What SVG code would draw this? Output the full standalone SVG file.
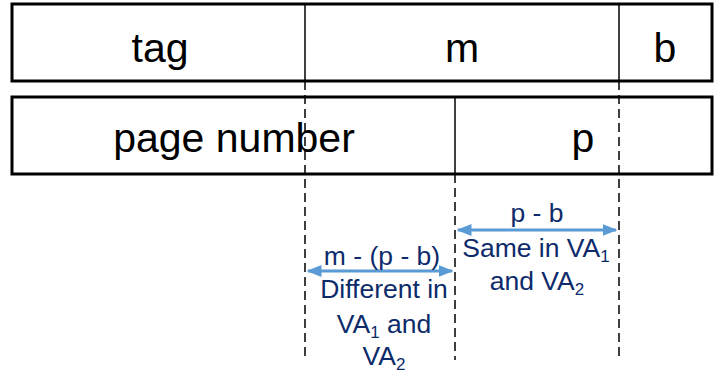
<svg xmlns="http://www.w3.org/2000/svg" width="722" height="375" viewBox="0 0 722 375">
<style>
.box{fill:#fff;stroke:#000;stroke-width:3}
.div{stroke:#000;stroke-width:1.5}
.dash{stroke:#000;stroke-width:1.5;stroke-dasharray:9 5;fill:none}
.big{font-family:"Liberation Sans",Arial,sans-serif;font-size:41px;fill:#000;text-anchor:middle}
.lab{font-family:"Liberation Sans",Arial,sans-serif;font-size:26.5px;fill:#0d2b6b;text-anchor:middle}
.sub{font-size:17px}
.arr{stroke:#5b9bd5;stroke-width:3;fill:none;marker-start:url(#ah);marker-end:url(#ah)}
</style>
<defs>
<marker id="ah" viewBox="0 0 10 10" refX="9" refY="5" markerWidth="5" markerHeight="4" orient="auto-start-reverse" markerUnits="strokeWidth" preserveAspectRatio="none">
<path d="M0,0 L10,5 L0,10 z" fill="#5b9bd5"/>
</marker>
</defs>
<g id="va-fields">
<rect class="box" x="12" y="4" width="700" height="77"/>
<line class="div" x1="305" y1="4" x2="305" y2="81"/>
<line class="div" x1="619" y1="4" x2="619" y2="81"/>
<text class="big" x="160" y="62">tag</text>
<text class="big" x="462" y="62">m</text>
<text class="big" x="665" y="62">b</text>
</g>
<g id="pa-fields">
<rect class="box" x="12" y="97" width="700" height="77"/>
<line class="div" x1="455" y1="97" x2="455" y2="174"/>
<text class="big" x="234" y="152">page number</text>
<text class="big" x="583" y="152">p</text>
</g>
<g id="connectors">
<line class="dash" x1="305" y1="81" x2="305" y2="360"/>
<line class="dash" x1="455" y1="174" x2="455" y2="360"/>
<line class="dash" x1="619" y1="81" x2="619" y2="360"/>
<line class="arr" x1="458" y1="230" x2="616" y2="230"/>
<line class="arr" x1="308" y1="271" x2="452" y2="271"/>
</g>
<g id="labels">
<text class="lab" x="537" y="222">p - b</text>
<text class="lab" x="536" y="257">Same in VA<tspan class="sub" dy="5">1</tspan></text>
<text class="lab" x="537" y="290">and VA<tspan class="sub" dy="5">2</tspan></text>
<text class="lab" x="382" y="265">m - (p - b)</text>
<text class="lab" x="384" y="298">Different in</text>
<text class="lab" x="384" y="333">VA<tspan class="sub" dy="5">1</tspan><tspan dy="-5"> and</tspan></text>
<text class="lab" x="384" y="365">VA<tspan class="sub" dy="5">2</tspan></text>
</g>
</svg>
